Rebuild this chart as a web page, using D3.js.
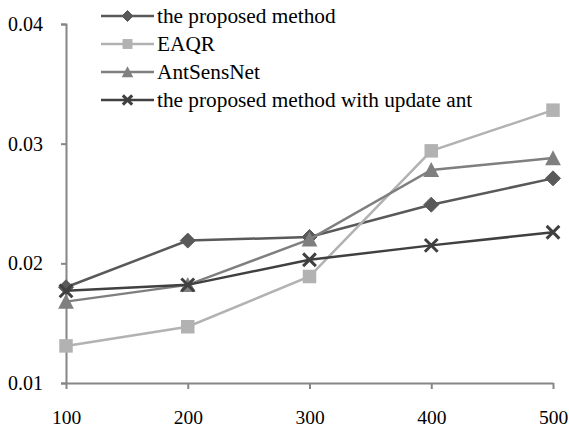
<!DOCTYPE html>
<html>
<head>
<meta charset="utf-8">
<script src="https://cdn.jsdelivr.net/npm/d3@7"></script>
<style>
  html, body { margin: 0; padding: 0; background: #fff; }
  svg { display: block; }
  text { font-family: "Liberation Serif", "Times New Roman", Times, serif; fill: #000; }
</style>
</head>
<body>
<svg id="chart" width="569" height="429"></svg>
<script>
// Categories on the x axis
const categories = ["100", "200", "300", "400", "500"];

// Series values
const proposed       = [0.0180, 0.0219, 0.0222, 0.0249, 0.0271];
const eaqr           = [0.0131, 0.0147, 0.0189, 0.0294, 0.0328];
const antSensNet     = [0.0168, 0.0182, 0.0220, 0.0278, 0.0288];
const proposedUpdate = [0.0177, 0.0182, 0.0203, 0.0215, 0.0226];

const seriesNames = ["the proposed method", "EAQR", "AntSensNet", "the proposed method with update ant"];

// Y axis ticks
const yTicks = [0.01, 0.02, 0.03, 0.04];

const series = [
  { name: seriesNames[0], values: proposed,       color: "#595959", marker: "diamond" },
  { name: seriesNames[1], values: eaqr,           color: "#b2b2b2", marker: "square" },
  { name: seriesNames[2], values: antSensNet,     color: "#7f7f7f", marker: "triangle" },
  { name: seriesNames[3], values: proposedUpdate, color: "#404040", marker: "cross" }
];

const svg = d3.select("#chart");
const margin = { left: 66, top: 24 };

const x = d3.scalePoint().domain(categories).range([margin.left, 553]);
const y = d3.scaleLinear().domain([0.01, 0.04]).range([383, margin.top]);

const axisColor = "#868686";
const serif = "'Liberation Serif', 'Times New Roman', Times, serif";

// Y axis
const yAxis = svg.append("g")
  .attr("transform", `translate(${margin.left},0)`)
  .call(d3.axisLeft(y).tickValues(yTicks).tickFormat(d3.format(".2f")).tickSize(5).tickPadding(18));
yAxis.attr("font-family", serif);
yAxis.select(".domain").attr("stroke", axisColor).attr("stroke-width", 2);
yAxis.selectAll(".tick line").attr("stroke", axisColor).attr("stroke-width", 2);
yAxis.selectAll(".tick text").attr("font-size", 20).attr("fill", "#000");

// X axis
const xAxis = svg.append("g")
  .attr("transform", `translate(0,383)`)
  .call(d3.axisBottom(x).tickSize(6).tickSizeOuter(0).tickPadding(21));
xAxis.attr("font-family", serif);
xAxis.select(".domain").attr("stroke", axisColor).attr("stroke-width", 2);
xAxis.selectAll(".tick line").attr("stroke", axisColor).attr("stroke-width", 2);
xAxis.selectAll(".tick text").attr("font-size", 19.5).attr("fill", "#000");

// Marker drawing
function drawMarker(g, type, cx, cy, size, color) {
  const h = size / 2;
  if (type === "diamond") {
    g.append("path")
      .attr("d", `M${cx},${cy - h}L${cx + h},${cy}L${cx},${cy + h}L${cx - h},${cy}Z`)
      .attr("fill", color).attr("stroke", color).attr("stroke-width", 1);
  } else if (type === "square") {
    const s = size * 0.9;
    g.append("rect")
      .attr("x", cx - s / 2).attr("y", cy - s / 2).attr("width", s).attr("height", s)
      .attr("fill", color);
  } else if (type === "triangle") {
    g.append("path")
      .attr("d", `M${cx},${cy - h * 1.05}L${cx + h * 1.05},${cy + h * 0.95}L${cx - h * 1.05},${cy + h * 0.95}Z`)
      .attr("fill", color);
  } else if (type === "cross") {
    const c = h * 0.85;
    g.append("path")
      .attr("d", `M${cx - c},${cy - c}L${cx + c},${cy + c}M${cx - c},${cy + c}L${cx + c},${cy - c}`)
      .attr("stroke", color).attr("stroke-width", 3).attr("fill", "none");
  }
}

// Lines and markers
const line = d3.line().x((d, i) => x(categories[i])).y(d => y(d));
series.forEach(s => {
  const g = svg.append("g");
  g.append("path")
    .attr("d", line(s.values))
    .attr("fill", "none")
    .attr("stroke", s.color)
    .attr("stroke-width", 2.5);
  s.values.forEach((v, i) => drawMarker(g, s.marker, x(categories[i]), y(v), 15, s.color));
});

// Legend
const legend = svg.append("g");
series.forEach((s, i) => {
  const ly = 16 + i * 28;
  legend.append("line")
    .attr("x1", 101).attr("x2", 154).attr("y1", ly).attr("y2", ly)
    .attr("stroke", s.color).attr("stroke-width", 2.5);
  drawMarker(legend, s.marker, 127.5, ly, 11, s.color);
  legend.append("text")
    .attr("x", 157).attr("y", ly).attr("dy", "0.33em")
    .attr("font-size", 21.3)
    .text(s.name);
});
</script>
</body>
</html>
